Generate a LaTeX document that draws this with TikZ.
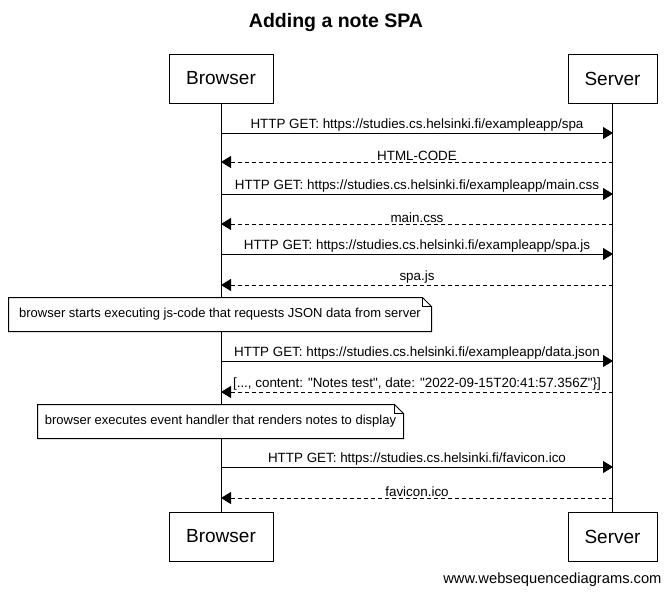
\documentclass[tikz,border=0pt]{standalone}
\usepackage{fontspec}
\setmainfont{Liberation Sans}[Ligatures=TeXOff]
\usetikzlibrary{arrows.meta}

\begin{document}
\begin{tikzpicture}[x=1pt,y=-1pt,line width=1pt]
	\useasboundingbox (0,0) rectangle (672,595);
	\tikzstyle{party}=[draw,minimum height=49pt,inner sep=0pt,font=\fontsize{19}{22}\selectfont]
	\tikzstyle{msg}=[-{Triangle[length=10pt,width=12pt]}]
	\tikzstyle{reply}=[msg,dash pattern=on 4pt off 3pt]
	\tikzstyle{lbl}=[above,inner sep=1pt,font=\fontsize{13.4}{15}\selectfont]
	\tikzstyle{notetext}=[minimum height=33pt,inner sep=0pt,font=\fontsize{13}{15}\selectfont]
	% title and footer
	\node (title) at (336,22) {\fontsize{19.5}{23}\selectfont\bfseries Adding a note SPA};
	\node[anchor=east,inner sep=0pt] (wsd) at (662,580) {\fontsize{14.7}{17}\selectfont www.websequencediagrams.com};
	% participants
	\node[party,minimum width=104pt] (bTop) at (221,78.5) {Browser};
	\node[party,minimum width=89pt] (sTop) at (612.5,78.5) {Server};
	\node[party,minimum width=104pt] (bBot) at (221,536.5) {Browser};
	\node[party,minimum width=89pt] (sBot) at (612.5,536.5) {Server};
	\draw (bTop) -- (bBot);
	\draw (sTop) -- (sBot);
	% lifeline points
	\coordinate (b1) at (221,133);  \coordinate (s1) at (613,133);
	\coordinate (b2) at (221,162);  \coordinate (s2) at (613,162);
	\coordinate (b3) at (221,194);  \coordinate (s3) at (613,194);
	\coordinate (b4) at (221,224);  \coordinate (s4) at (613,224);
	\coordinate (b5) at (221,254);  \coordinate (s5) at (613,254);
	\coordinate (b6) at (221,285);  \coordinate (s6) at (613,285);
	\coordinate (b7) at (221,361);  \coordinate (s7) at (613,361);
	\coordinate (b8) at (221,392);  \coordinate (s8) at (613,392);
	\coordinate (b9) at (221,467);  \coordinate (s9) at (613,467);
	\coordinate (b10) at (221,498); \coordinate (s10) at (613,498);
	% messages
	\draw[msg] (b1) -- node[lbl] {HTTP GET: https://studies.cs.helsinki.fi/exampleapp/spa} (s1);
	\draw[reply] (s2) -- node[lbl] {HTML-CODE} (b2);
	\draw[msg] (b3) -- node[lbl] {HTTP GET: https://studies.cs.helsinki.fi/exampleapp/main.css} (s3);
	\draw[reply] (s4) -- node[lbl] {main.css} (b4);
	\draw[msg] (b5) -- node[lbl] {HTTP GET: https://studies.cs.helsinki.fi/exampleapp/spa.js} (s5);
	\draw[reply] (s6) -- node[lbl] {spa.js} (b6);
	\draw[msg] (b7) -- node[lbl] {HTTP GET: https://studies.cs.helsinki.fi/exampleapp/data.json} (s7);
	\draw[reply] (s8) -- node[lbl] {[..., content: "Notes test", date: "2022-09-15T20:41:57.356Z"\}]} (b8);
	\draw[msg] (b9) -- node[lbl] {HTTP GET: https://studies.cs.helsinki.fi/favicon.ico} (s9);
	\draw[reply] (s10) -- node[lbl] {favicon.ico} (b10);
	% notes
	\node[notetext,minimum width=422pt] (n1) at (220,314.5) {};
	\filldraw[fill=white] (n1.north west) -- ([xshift=-9pt]n1.north east) -- ([yshift=-9pt]n1.north east)
		-- (n1.south east) -- (n1.south west) -- cycle;
	\draw ([xshift=-9pt]n1.north east) -- ([xshift=-9pt,yshift=-9pt]n1.north east) -- ([yshift=-9pt]n1.north east);
	\node[notetext] at (n1) {browser starts executing js-code that requests JSON data from server};
	\node[notetext,minimum width=365pt] (n2) at (220.5,421.5) {};
	\filldraw[fill=white] (n2.north west) -- ([xshift=-9pt]n2.north east) -- ([yshift=-9pt]n2.north east)
		-- (n2.south east) -- (n2.south west) -- cycle;
	\draw ([xshift=-9pt]n2.north east) -- ([xshift=-9pt,yshift=-9pt]n2.north east) -- ([yshift=-9pt]n2.north east);
	\node[notetext] at (n2) {browser executes event handler that renders notes to display};
\end{tikzpicture}
\end{document}
